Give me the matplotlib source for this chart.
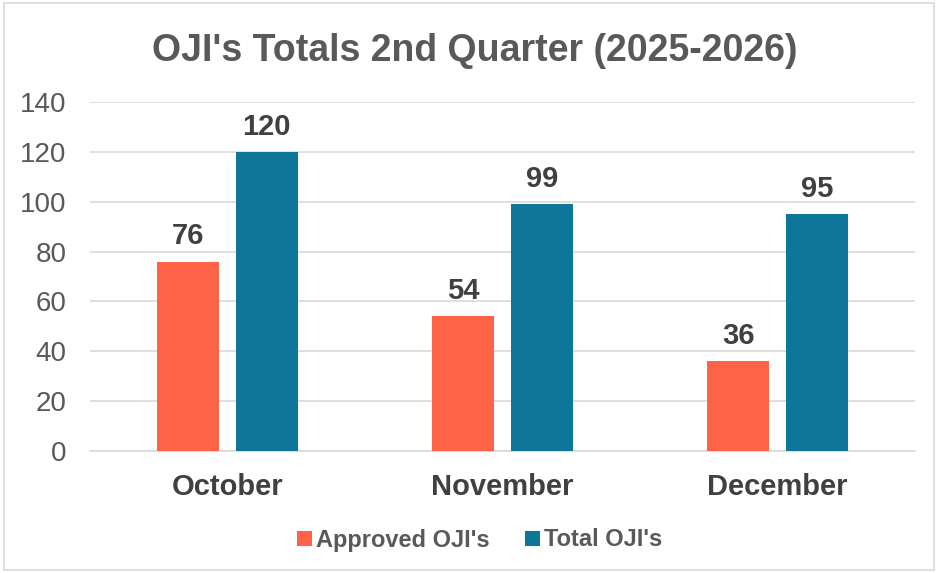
import matplotlib
matplotlib.use("Agg")
import matplotlib.pyplot as plt
import numpy as np
from matplotlib.patches import Rectangle

plt.rcParams['font.family'] = ['Liberation Sans', 'DejaVu Sans']

months = ["October", "November", "December"]
approved = [76, 54, 36]
total = [120, 99, 95]
series_names = ["Approved OJI's", "Total OJI's"]
yticks = [0, 20, 40, 60, 80, 100, 120, 140]

c_orange = "#FF6347"
c_blue = "#0E7699"
txt = "#595959"
lbl = "#404040"

fig = plt.figure(figsize=9.36 * np.array([1, 573 / 936]), dpi=100)
fig.patches.append(Rectangle((0.004, 0.005), 0.994, 0.99, transform=fig.transFigure,
                             fill=False, edgecolor="#D9D9D9", linewidth=1.2))
ax = fig.add_axes([90 / 936, 1 - 451 / 573, 825 / 936, 349 / 573])

x = np.arange(len(months))
w = 0.225
off = 0.1427
b1 = ax.bar(x - off, approved, w, color=c_orange, label=series_names[0], zorder=3)
b2 = ax.bar(x + off, total, w, color=c_blue, label=series_names[1], zorder=3)

for bars in (b1, b2):
    for r in bars:
        ax.annotate(f"{int(r.get_height())}", (r.get_x() + r.get_width() / 2, r.get_height()),
                    xytext=(0, 8), textcoords="offset points", ha="center", va="bottom",
                    fontsize=21, fontweight="bold", color=lbl)

ax.set_xlim(-0.5, 2.5)
ax.set_ylim(0, 140)
ax.set_yticks(yticks)
ax.set_yticklabels([str(v) for v in yticks], fontsize=20, color=txt)
ax.set_xticks(x)
ax.set_xticklabels(months, fontsize=21, fontweight="bold", color=lbl)
ax.tick_params(axis="both", length=0)
ax.tick_params(axis="y", pad=17)
ax.tick_params(axis="x", pad=16)
ax.grid(axis="y", color="#D9D9D9", linewidth=1.2, zorder=0)
for s in ("top", "right", "left"):
    ax.spines[s].set_visible(False)
ax.spines["bottom"].set_color("#D9D9D9")
ax.spines["bottom"].set_linewidth(1.2)

fig.text(475 / 936, 1 - 51 / 573, "OJI's Totals 2nd Quarter (2025-2026)", ha="center", va="center",
         fontsize=27, fontweight="bold", color=txt)

leg = fig.legend(handles=[b1, b2], labels=series_names, loc="center", bbox_to_anchor=(480 / 936, 1 - 540 / 573),
                 ncol=2, frameon=False, fontsize=17, handlelength=0.6, handleheight=0.6,
                 handletextpad=0.2, columnspacing=1.5)
for t in leg.get_texts():
    t.set_color(txt)
    t.set_fontweight("bold")

fig.savefig("out.png", dpi=100)
